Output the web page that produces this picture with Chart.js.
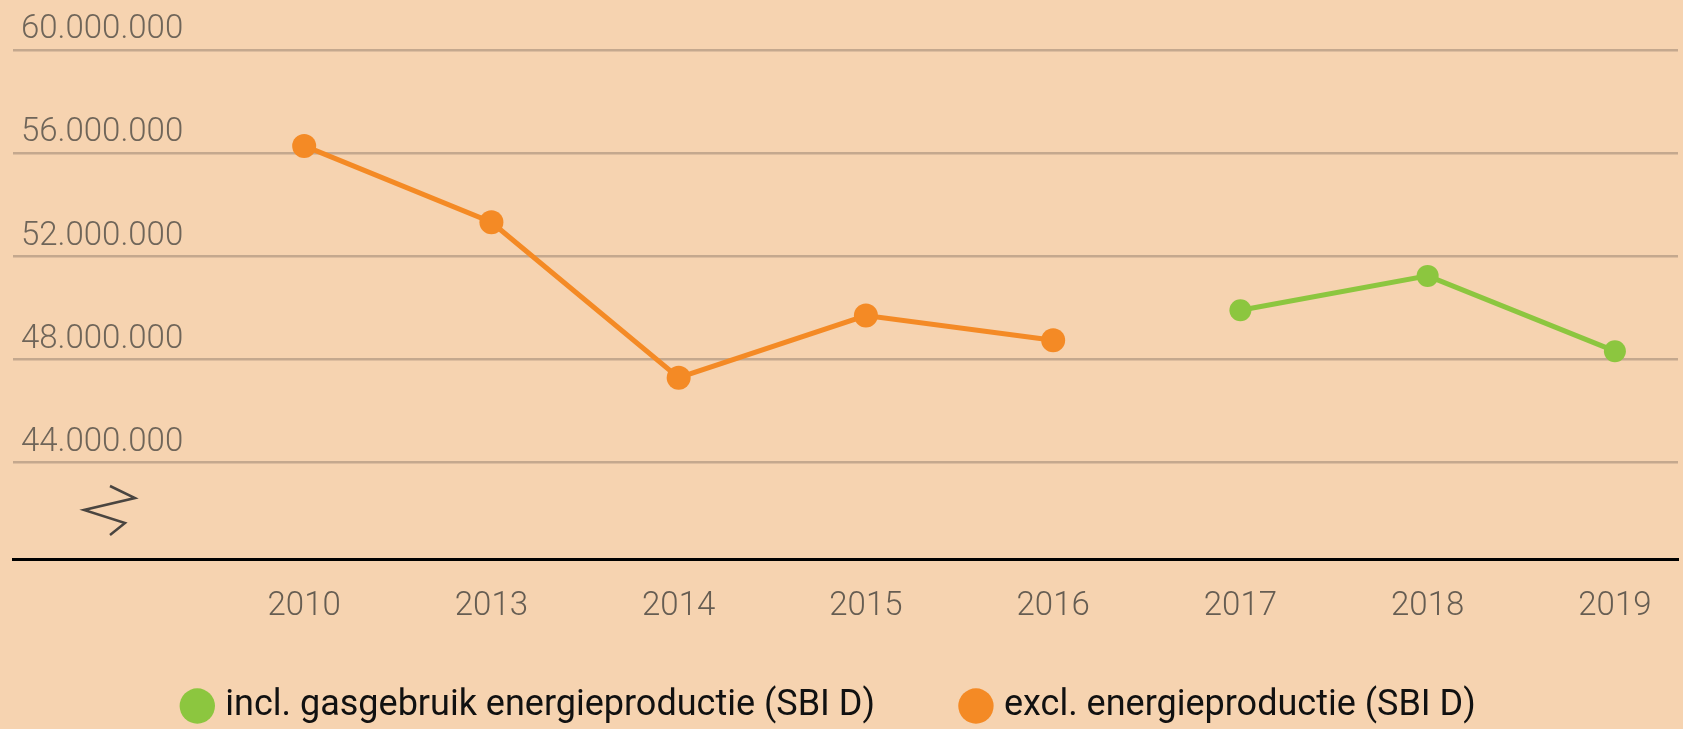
<!DOCTYPE html>
<html>
<head>
<meta charset="utf-8">
<script src="https://cdn.jsdelivr.net/npm/chart.js@4/dist/chart.umd.min.js"></script>
<style>
  html, body { margin: 0; padding: 0; background: #f6d3b0; }
  #wrap { width: 1683px; height: 729px; }
</style>
</head>
<body>
<div id="wrap"><canvas id="lineChart"></canvas></div>
<script>
// years on the x axis (equally spaced)
var years = ['2010', '2013', '2014', '2015', '2016', '2017', '2018', '2019']
// excl. energieproductie (SBI D), orange
var exclValues = [56280000, 53320000, 47290000, 49700000, 48740000, null, null, null]
// incl. gasgebruik energieproductie (SBI D), green
var inclValues = [null, null, null, null, null, 49910000, 51240000, 48320000]
var yTicks = [44000000, 48000000, 52000000, 56000000, 60000000]
var seriesLabels = ['incl. gasgebruik energieproductie (SBI D)', 'excl. energieproductie (SBI D)']

function toPoints(values) {
    var pts = []
    for (var i = 0; i < values.length; i++) {
        if (values[i] != null) pts.push({x: i, y: values[i]})
    }
    return pts
}

function dots(n) {
    return String(n).replace(/\B(?=(\d{3})+(?!\d))/g, '.')
}

// small zigzag "axis break" sign under the lowest gridline
var breakSign = {
    id: 'breakSign',
    afterDraw: function (chart) {
        var ctx = chart.ctx
        var l = chart.chartArea.left
        ctx.save()
        ctx.strokeStyle = '#4a4540'
        ctx.lineWidth = 2.5
        ctx.beginPath()
        ctx.moveTo(l + 97, 486)
        ctx.lineTo(l + 122, 498)
        ctx.lineTo(l + 71, 510)
        ctx.lineTo(l + 112, 523)
        ctx.lineTo(l + 97, 535)
        ctx.stroke()
        ctx.restore()
    }
}

// legend sits a little left of the centre in the original
var legendShift = {
    id: 'legendShift',
    afterLayout: function (chart) {
        chart.legend.left -= 14
        chart.legend.right -= 14
    }
}

var lineChart = new Chart(document.getElementById('lineChart').getContext('2d'), {
    type: 'line',
    data: {
        datasets: [
            {
                label: seriesLabels[0],
                data: toPoints(inclValues),
                borderColor: '#8cc63f',
                backgroundColor: '#8cc63f',
                borderWidth: 5,
                pointRadius: 11,
                pointBorderWidth: 0,
                pointBackgroundColor: '#8cc63f'
            },
            {
                label: seriesLabels[1],
                data: toPoints(exclValues),
                borderColor: '#f48a25',
                backgroundColor: '#f48a25',
                borderWidth: 5,
                pointRadius: 12,
                pointBorderWidth: 0,
                pointBackgroundColor: '#f48a25'
            }
        ]
    },
    options: {
        responsive: true,
        maintainAspectRatio: false,
        animation: false,
        layout: {autoPadding: false, padding: {top: 50, left: 13, right: 5, bottom: -5}},
        plugins: {
            tooltip: {enabled: false},
            legend: {
                position: 'bottom',
                labels: {
                    usePointStyle: true,
                    pointStyle: 'circle',
                    boxWidth: 20,
                    boxHeight: 25,
                    padding: 91,
                    color: '#111',
                    font: {family: 'Roboto', size: 36}
                }
            }
        },
        scales: {
            x: {
                type: 'linear',
                min: -1.555,
                max: 7.337,
                afterBuildTicks: function (scale) {
                    scale.ticks = years.map(function (y, i) { return {value: i} })
                },
                afterFit: function (scale) { scale.height = 38 },
                grid: {display: false, drawTicks: false},
                border: {display: true, color: '#000', width: 3},
                ticks: {
                    // mirrored with a negative padding: labels hang below the axis line
                    mirror: true,
                    padding: -68,
                    color: '#665d52',
                    font: {family: 'Roboto', size: 33, weight: 300},
                    callback: function (v) { return years[v] }
                }
            },
            y: {
                min: 40260000,
                max: 60000000,
                afterBuildTicks: function (scale) {
                    scale.ticks = yTicks.map(function (v) { return {value: v} })
                },
                afterFit: function (scale) { scale.width = 0 },
                border: {display: false},
                grid: {color: '#c4a88e', lineWidth: 2.5, drawTicks: false},
                ticks: {
                    mirror: true,
                    padding: 8,
                    labelOffset: -20,
                    color: '#6f6559',
                    font: {family: 'Roboto', size: 33, weight: 300},
                    callback: function (v) { return dots(v) }
                }
            }
        }
    },
    plugins: [breakSign, legendShift]
})
</script>
</body>
</html>
